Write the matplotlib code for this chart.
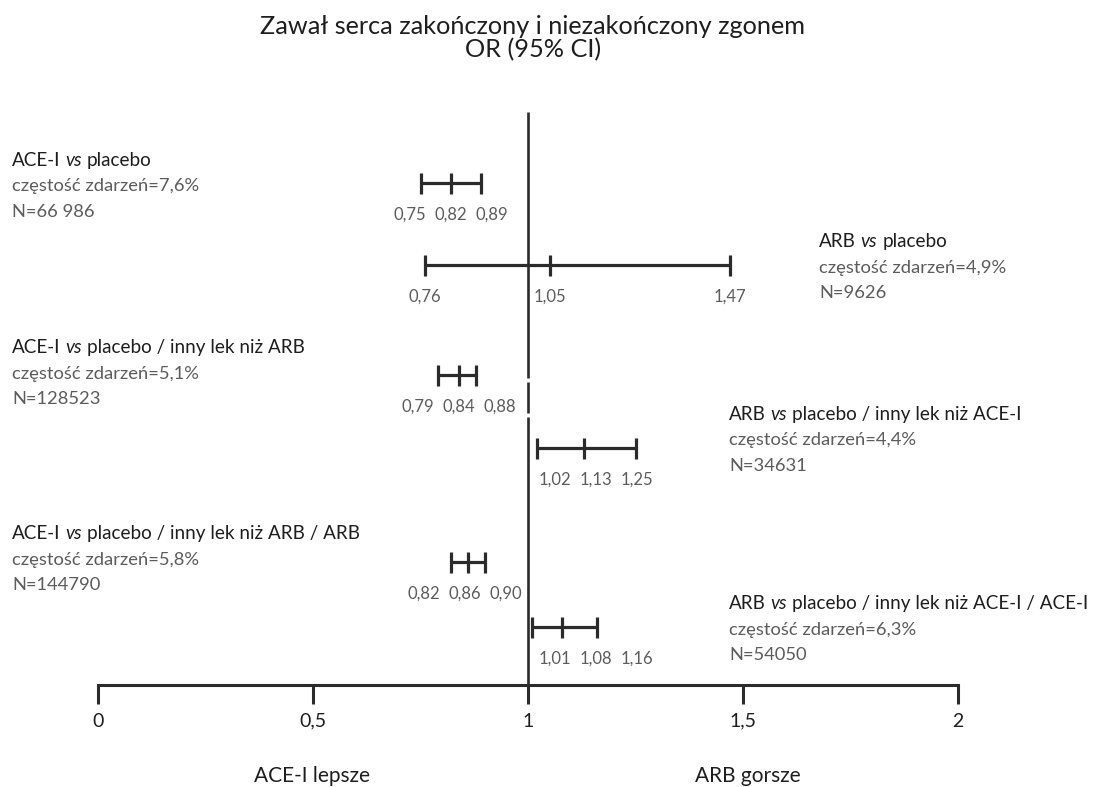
import matplotlib
matplotlib.use("Agg")
import matplotlib.pyplot as plt

plt.rcParams['font.family'] = ['Lato', 'DejaVu Sans']

# odds ratios with 95% CI
group_drug = ["ACE-I", "ARB", "ACE-I", "ARB", "ACE-I", "ARB"]
group_comparator = ["placebo", "placebo",
                    "placebo / inny lek niż ARB", "placebo / inny lek niż ACE-I",
                    "placebo / inny lek niż ARB / ARB", "placebo / inny lek niż ACE-I / ACE-I"]
event_rate = ["7,6", "4,9", "5,1", "4,4", "5,8", "6,3"]
n_patients = ["66 986", "9626", "128523", "34631", "144790", "54050"]
or_low = [0.75, 0.76, 0.79, 1.02, 0.82, 1.01]
or_mid = [0.82, 1.05, 0.84, 1.13, 0.86, 1.08]
or_high = [0.89, 1.47, 0.88, 1.25, 0.90, 1.16]
axis_ticks = [0, 0.5, 1, 1.5, 2]
axis_labels = ["0", "0,5", "1", "1,5", "2"]

# layout (y in pixels from the top)
row_y = [183, 265, 375, 448, 562, 627]
head_y = [166, 247, 353, 420, 539, 609]
text_x_px = [12, 819, 12, 729, 12, 729]
line_gap = 25.5
label_gap = 41  # minimum distance between CI value labels, px

DARK = "#1e1e1e"
GREY = "#5c5c5c"
LINE = "#2b2b2b"

W, H = 1098, 787
X0, UNIT = 98, 430  # pixel of OR=0, pixels per unit

fig = plt.figure(figsize=(W / 100, H / 100), dpi=100)
ax = fig.add_axes([0, 0, 1, 1])
ax.set_xlim(-X0 / UNIT, (W - X0) / UNIT)
ax.set_ylim(H, 0)
renderer = fig.canvas.get_renderer()


def px(x):
    return (x - X0) / UNIT


def width(s, **kw):
    t = ax.text(0, 0, s, **kw)
    w = t.get_window_extent(renderer).width
    t.remove()
    return w / UNIT


def fmt(v):
    return f"{v:.2f}".replace(".", ",")


def label_positions(lo, mid, hi):
    # spread around the point estimate, then keep clear of the OR = 1 line
    gap = label_gap / UNIT
    xs = [min(lo, mid - gap), mid, max(hi, mid + gap)]
    if hi < 1:
        xs[2] = min(xs[2], 1 - 22 / UNIT)
        xs[1] = min(xs[1], xs[2] - gap)
        xs[0] = min(xs[0], xs[1] - gap)
    elif lo > 1:
        xs[0] = max(xs[0], 1 + 27 / UNIT)
        xs[1] = max(xs[1], xs[0] + gap)
        xs[2] = max(xs[2], xs[1] + gap)
    return xs


# reference line at OR = 1 (with small breaks)
for y0, y1 in [(112, 378), (382, 413), (417, 686)]:
    ax.vlines(1, y0, y1, color=LINE, lw=1.9, capstyle='butt')

head_kw = dict(fontsize=13.6, color=DARK, va='baseline', ha='left')
sub_kw = dict(fontsize=13.2, color=GREY, va='baseline', ha='left')
space = width("A B", **head_kw) - width("AB", **head_kw)

for i in range(len(or_mid)):
    y = row_y[i]
    lo, mid, hi = or_low[i], or_mid[i], or_high[i]
    ax.hlines(y, lo, hi, color=LINE, lw=2.3)
    ax.vlines([lo, mid, hi], y - 10.5, y + 10.5, color=LINE, lw=2.3)
    for lx, v in zip(label_positions(lo, mid, hi), (lo, mid, hi)):
        ax.text(lx, y + 37, fmt(v), fontsize=12, color=GREY, ha='center', va='baseline')

    # group header: "<drug> vs <comparator>"
    x = px(text_x_px[i])
    hy = head_y[i]
    ax.text(x, hy, group_drug[i], **head_kw)
    x += width(group_drug[i], **head_kw) + space
    ax.text(x, hy, "vs", fontstyle='italic', **head_kw)
    x += width("vs", fontstyle='italic', **head_kw) + space
    ax.text(x, hy, group_comparator[i], **head_kw)

    ax.text(px(text_x_px[i]), hy + line_gap, f"częstość zdarzeń={event_rate[i]}%", **sub_kw)
    ax.text(px(text_x_px[i]), hy + 2 * line_gap, f"N={n_patients[i]}", **sub_kw)

# OR axis
ax.spines[['left', 'right', 'top']].set_visible(False)
ax.spines['bottom'].set_position(('data', 685))
ax.spines['bottom'].set_bounds(0, 2)
ax.spines['bottom'].set_linewidth(2.2)
ax.spines['bottom'].set_color(LINE)
ax.set_xticks(axis_ticks, axis_labels)
ax.tick_params(axis='x', direction='out', length=14, width=2.2, color=LINE,
               pad=6, labelsize=14, labelcolor=DARK)
ax.set_yticks([])

ax.text(px(312), 782, "ACE-I lepsze", fontsize=15, color=DARK, ha='center', va='baseline')
ax.text(px(748), 782, "ARB gorsze", fontsize=15, color=DARK, ha='center', va='baseline')

fig.text(533 / W, 1 - 27 / H, "Zawał serca zakończony i niezakończony zgonem",
         fontsize=18.2, color=DARK, ha='center', va='center')
fig.text(533 / W, 1 - 50 / H, "OR (95% CI)", fontsize=18.2, color=DARK, ha='center', va='center')

fig.savefig("out.png", dpi=100, facecolor='white')
